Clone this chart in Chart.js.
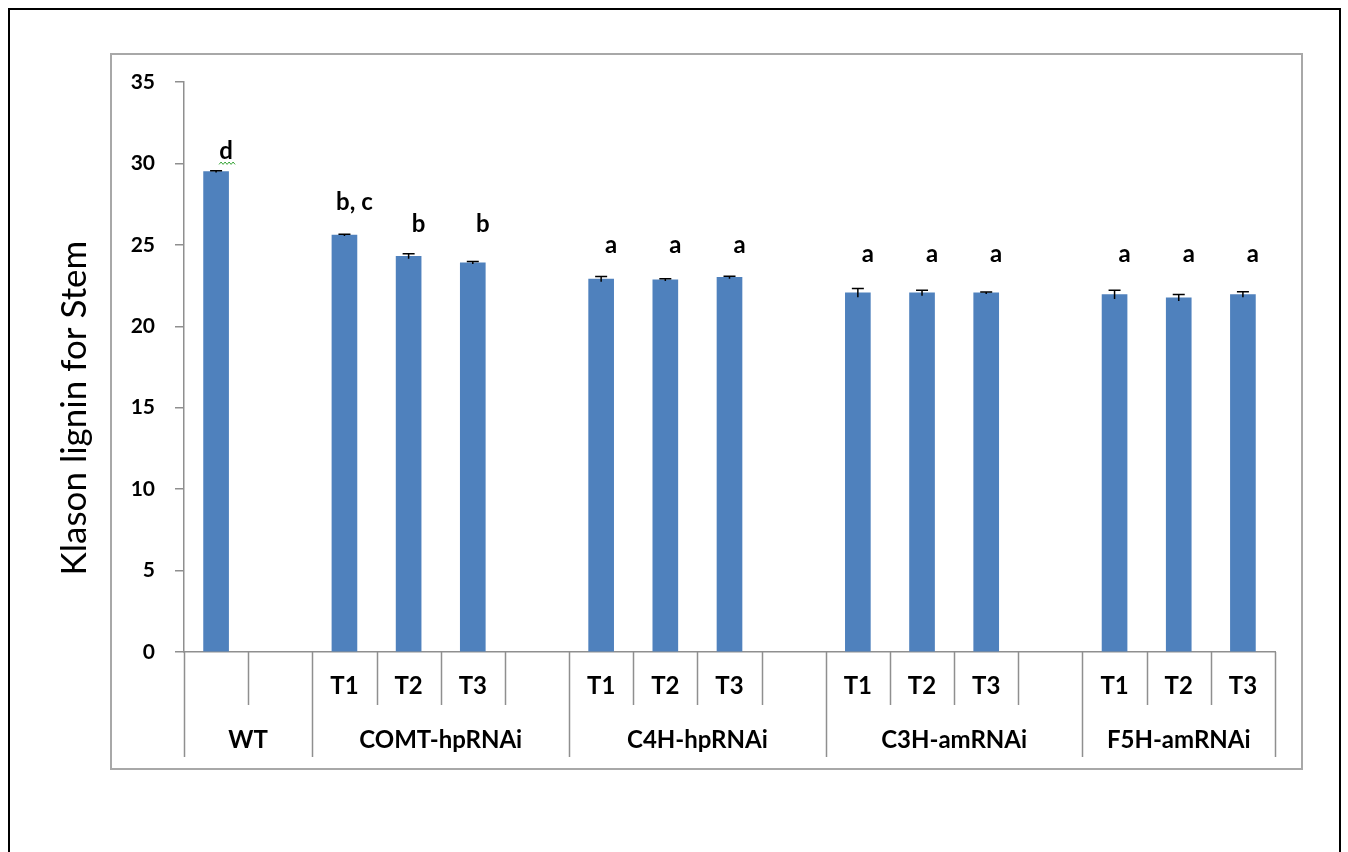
<!DOCTYPE html>
<html>
<head>
<meta charset="utf-8">
<script src="https://cdn.jsdelivr.net/npm/chart.js@4/dist/chart.umd.min.js"></script>
<style>
  html, body { margin: 0; padding: 0; background: #fff; overflow: hidden; }
  #wrap { width: 1348px; height: 852px; position: relative; }
</style>
</head>
<body>
<div id="wrap"><canvas id="c" width="1348" height="852"></canvas></div>
<script>
// Sub-category labels, one per slot (blank slots separate the groups)
const categories = ['', '', 'T1', 'T2', 'T3', '', 'T1', 'T2', 'T3', '', 'T1', 'T2', 'T3', '', 'T1', 'T2', 'T3'];
// Line groups and how many slots each one spans
const groupNames = ['WT', 'COMT-hpRNAi', 'C4H-hpRNAi', 'C3H-amRNAi', 'F5H-amRNAi'];
const groupSpans = [2, 4, 4, 4, 3];
// Klason lignin content of the stem and its error
const lignin    = [29.5, null, 25.6, 24.3, 23.9, null, 22.9, 22.85, 23.0, null, 22.05, 22.05, 22.05, null, 21.95, 21.75, 21.95];
const ligninErr = [0.05, null, 0.05, 0.15, 0.08, null, 0.16, 0.07, 0.08, null, 0.27, 0.17, 0.06, null, 0.27, 0.20, 0.17];
// Significance letters above each bar
const sigLetters = ['d', '', 'b, c', 'b', 'b', '', 'a', 'a', 'a', '', 'a', 'a', 'a', '', 'a', 'a', 'a'];
// Y-axis range and step
const yMin = 0, yMax = 35, yStep = 5;

const AXIS_GREY = '#8f8f8f';
const LABEL_FONT = 'Lato';

const decor = {
  id: 'decor',
  afterDraw(chart, args, opts) {
    const ctx = chart.ctx;
    const xs = chart.scales.x, ys = chart.scales.y;
    const n = categories.length;
    const slot = (xs.right - xs.left) / n;
    const base = ys.getPixelForValue(0);
    ctx.save();

    // outer frame and inner chart border
    ctx.strokeStyle = '#000';
    ctx.lineWidth = 2;
    ctx.strokeRect(9, 9, 1331, 900);
    ctx.strokeStyle = '#a8a8a8';
    ctx.lineWidth = 2;
    ctx.strokeRect(111, 54, 1191, 715);

    // slot separators below the axis; group boundaries run longer
    const groupEdges = new Set([0]);
    let acc = 0;
    groupSpans.forEach(s => { acc += s; groupEdges.add(acc); });
    ctx.strokeStyle = AXIS_GREY;
    ctx.lineWidth = 1.5;
    for (let b = 0; b <= n; b++) {
      const x = Math.round(xs.left + b * slot) + 0.5;
      ctx.beginPath();
      ctx.moveTo(x, base);
      ctx.lineTo(x, base + (groupEdges.has(b) ? 105 : 53));
      ctx.stroke();
    }

    // group names
    ctx.fillStyle = '#000';
    ctx.font = 'bold 24px ' + LABEL_FONT;
    ctx.textAlign = 'center';
    ctx.textBaseline = 'middle';
    let start = 0;
    groupNames.forEach((g, i) => {
      const x = xs.left + (start + groupSpans[i] / 2) * slot;
      ctx.fillText(g, x, base + 88);
      start += groupSpans[i];
    });

    // error bars
    ctx.strokeStyle = '#000';
    ctx.lineWidth = 1.5;
    lignin.forEach((v, i) => {
      if (v == null) return;
      const e = ligninErr[i] || 0;
      const x = xs.getPixelForValue(i);
      const yT = ys.getPixelForValue(v + e), yB = ys.getPixelForValue(v - e);
      ctx.beginPath();
      ctx.moveTo(x, yB); ctx.lineTo(x, yT);
      ctx.moveTo(x - 6, yT); ctx.lineTo(x + 6, yT);
      ctx.stroke();
    });

    // significance letters
    ctx.font = 'bold 24px ' + LABEL_FONT;
    sigLetters.forEach((t, i) => {
      if (!t) return;
      const x = xs.getPixelForValue(i) + 10;
      const y = ys.getPixelForValue(opts.levels[i]);
      ctx.fillText(t, x, y);
    });

    // green wavy underline beneath the "d"
    {
      const x0 = xs.getPixelForValue(0) + 3, y0 = ys.getPixelForValue(opts.levels[0]) + 12;
      ctx.strokeStyle = '#3aa63a';
      ctx.lineWidth = 1;
      ctx.beginPath();
      for (let k = 0; k <= 8; k++) {
        const px = x0 + k * 2, py = y0 + (k % 2 ? -1.2 : 1.2);
        if (k === 0) ctx.moveTo(px, py); else ctx.lineTo(px, py);
      }
      ctx.stroke();
    }

    // y-axis title
    ctx.fillStyle = '#000';
    ctx.font = '35px ' + LABEL_FONT;
    ctx.translate(75, 408);
    ctx.rotate(-Math.PI / 2);
    ctx.textAlign = 'center';
    ctx.textBaseline = 'middle';
    ctx.fillText('Klason lignin for Stem', 0, 0);
    ctx.restore();
  }
};

new Chart(document.getElementById('c'), {
  type: 'bar',
  data: {
    labels: categories,
    datasets: [{
      data: lignin,
      backgroundColor: '#4F81BD',
      borderWidth: 0,
      barThickness: 25
    }]
  },
  options: {
    responsive: false,
    animation: false,
    devicePixelRatio: 1,
    layout: { padding: { top: 82, right: 73, bottom: 0, left: 0 } },
    plugins: {
      legend: { display: false },
      tooltip: { enabled: false },
      decor: {
        levels: [30.75, 0, 27.6, 26.25, 26.25, 0, 25.0, 25.0, 25.0, 0, 24.45, 24.45, 24.45, 0, 24.4, 24.4, 24.4]
      }
    },
    scales: {
      x: {
        type: 'category',
        offset: true,
        grid: { display: false, drawTicks: false },
        border: { display: true, color: AXIS_GREY, width: 1.5 },
        ticks: {
          color: '#000',
          font: { family: LABEL_FONT, weight: 'bold', size: 24 },
          padding: 20,
          autoSkip: false,
          maxRotation: 0
        },
        afterFit(s) { s.height = 200; }
      },
      y: {
        min: yMin,
        max: yMax,
        ticks: {
          stepSize: yStep,
          color: '#000',
          font: { family: LABEL_FONT, weight: 'bold', size: 21 },
          padding: 20
        },
        grid: { drawOnChartArea: false, drawTicks: true, tickLength: 9, color: AXIS_GREY, lineWidth: 1.5 },
        border: { display: true, color: AXIS_GREY, width: 1.5 },
        afterFit(s) { s.width = 184; }
      }
    }
  },
  plugins: [decor]
});
</script>
</body>
</html>
